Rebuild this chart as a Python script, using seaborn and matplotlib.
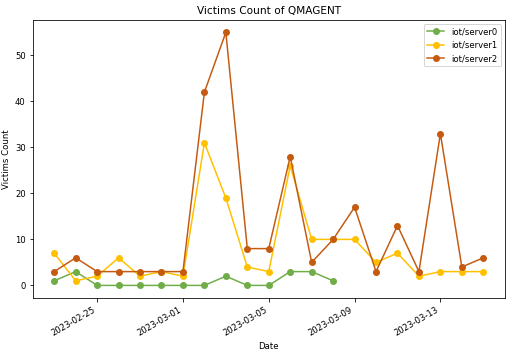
import numpy as np
import pandas as pd
import seaborn as sns
import matplotlib
matplotlib.use('Agg')
import matplotlib.pyplot as plt
import matplotlib.dates as mdates

dates = pd.date_range('2023-02-23', '2023-03-15', freq='D')
server0 = [1, 3, 0, 0, 0, 0, 0, 0, 2, 0, 0, 3, 3, 1]
server1 = [7, 1, 2, 6, 2, 3, 2, 31, 19, 4, 3, 26, 10, 10, 10, 5, 7, 2, 3, 3, 3]
server2 = [3, 6, 3, 3, 3, 3, 3, 42, 55, 8, 8, 28, 5, 10, 17, 3, 13, 3, 33, 4, 6]
tick_dates = ['2023-02-25', '2023-03-01', '2023-03-05', '2023-03-09', '2023-03-13']

# build long table for seaborn
frames = []
for name, vals in [('iot/server0', server0), ('iot/server1', server1), ('iot/server2', server2)]:
    frames.append(pd.DataFrame({'Date': dates[:len(vals)], 'Victims Count': vals, 'Host': name}))
data = pd.concat(frames, ignore_index=True)

colors = {'iot/server0': '#70AD47', 'iot/server1': '#FFC000', 'iot/server2': '#C55A11'}

plt.rcParams['font.size'] = 8.5
plt.rcParams['axes.titlesize'] = 10.5

fig, ax = plt.subplots(figsize=(7.11, 5.06), dpi=72)
sns.lineplot(data=data, x='Date', y='Victims Count', hue='Host', palette=colors,
             marker='o', markersize=7, markeredgewidth=0, estimator=None, ax=ax)

ax.set_title('Victims Count of QMAGENT')
ax.set_xlabel('Date')
ax.set_ylabel('Victims Count')
ax.set_xticks(pd.to_datetime(tick_dates))
ax.xaxis.set_major_formatter(mdates.DateFormatter('%Y-%m-%d'))
plt.setp(ax.get_xticklabels(), rotation=30, ha='right')
ax.legend(loc='upper right')

plt.subplots_adjust(left=0.064, right=0.986, top=0.945, bottom=0.181)
plt.savefig('out.png')
